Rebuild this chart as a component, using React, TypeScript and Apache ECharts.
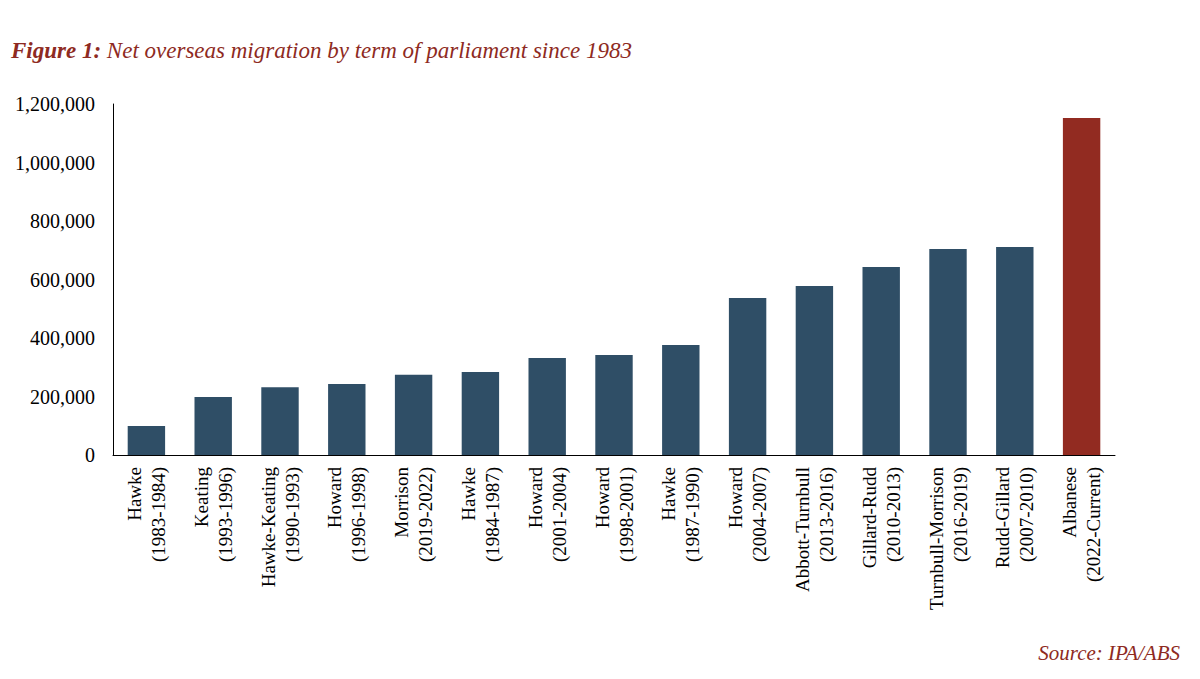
import { useEffect, useRef } from 'react';
import * as echarts from 'echarts';

const categories = [
  'Hawke\n(1983-1984)', 'Keating\n(1993-1996)', 'Hawke-Keating\n(1990-1993)', 'Howard\n(1996-1998)',
  'Morrison\n(2019-2022)', 'Hawke\n(1984-1987)', 'Howard\n(2001-2004)', 'Howard\n(1998-2001)',
  'Hawke\n(1987-1990)', 'Howard\n(2004-2007)', 'Abbott-Turnbull\n(2013-2016)', 'Gillard-Rudd\n(2010-2013)',
  'Turnbull-Morrison\n(2016-2019)', 'Rudd-Gillard\n(2007-2010)', 'Albanese\n(2022-Current)',
];
const values = [
  99000, 198000, 232000, 243000, 274000, 284000, 332000, 342000,
  376000, 537000, 578000, 643000, 704000, 711000, 1152000,
];

const FONT = '"Liberation Serif", "DejaVu Serif", serif';

const App = () => {
  const chartRef = useRef<HTMLDivElement>(null);

  useEffect(() => {
    if (!chartRef.current) return;
    const chart = echarts.init(chartRef.current, undefined, { renderer: 'svg' });
    chart.setOption({
      animation: false,
      textStyle: { fontFamily: FONT },
      title: {
        text: '{b|Figure 1:} Net overseas migration by term of parliament since 1983',
        left: 6,
        top: 34,
        textStyle: {
          fontFamily: FONT, fontSize: 23, fontStyle: 'italic', fontWeight: 'normal', color: '#8E2A22',
          rich: { b: { fontFamily: FONT, fontSize: 23, fontStyle: 'italic', fontWeight: 'bold', color: '#8E2A22' } },
        },
      },
      graphic: [{
        type: 'text', right: 20, bottom: 16,
        style: { text: 'Source: IPA/ABS', font: `italic 21px ${FONT}`, fill: '#8E2A22' },
      }],
      grid: { left: 113, right: 85, top: 104, bottom: 224 },
      xAxis: {
        type: 'category',
        data: categories,
        axisLine: { lineStyle: { color: '#000' } },
        axisTick: { show: false },
        axisLabel: { rotate: 90, interval: 0, color: '#000', fontSize: 19, lineHeight: 24, fontFamily: FONT, margin: 12 },
      },
      yAxis: {
        type: 'value',
        min: 0, max: 1200000, interval: 200000,
        splitLine: { show: false },
        axisLine: { show: true, lineStyle: { color: '#000' } },
        axisTick: { show: false },
        axisLabel: {
          color: '#000', fontSize: 20, fontFamily: FONT, margin: 18,
          formatter: (v: number) => v.toLocaleString('en-US'),
        },
      },
      series: [{
        type: 'bar',
        barWidth: '56%',
        data: values.map((v, i) => ({
          value: v,
          itemStyle: { color: i === values.length - 1 ? '#922B21' : '#2F4E66' },
        })),
      }],
    });
    return () => chart.dispose();
  }, []);

  return <div ref={chartRef} style={{ position: 'absolute', left: 0, top: 0, width: 1200, height: 679, background: '#fff' }} />;
};

export default App;
